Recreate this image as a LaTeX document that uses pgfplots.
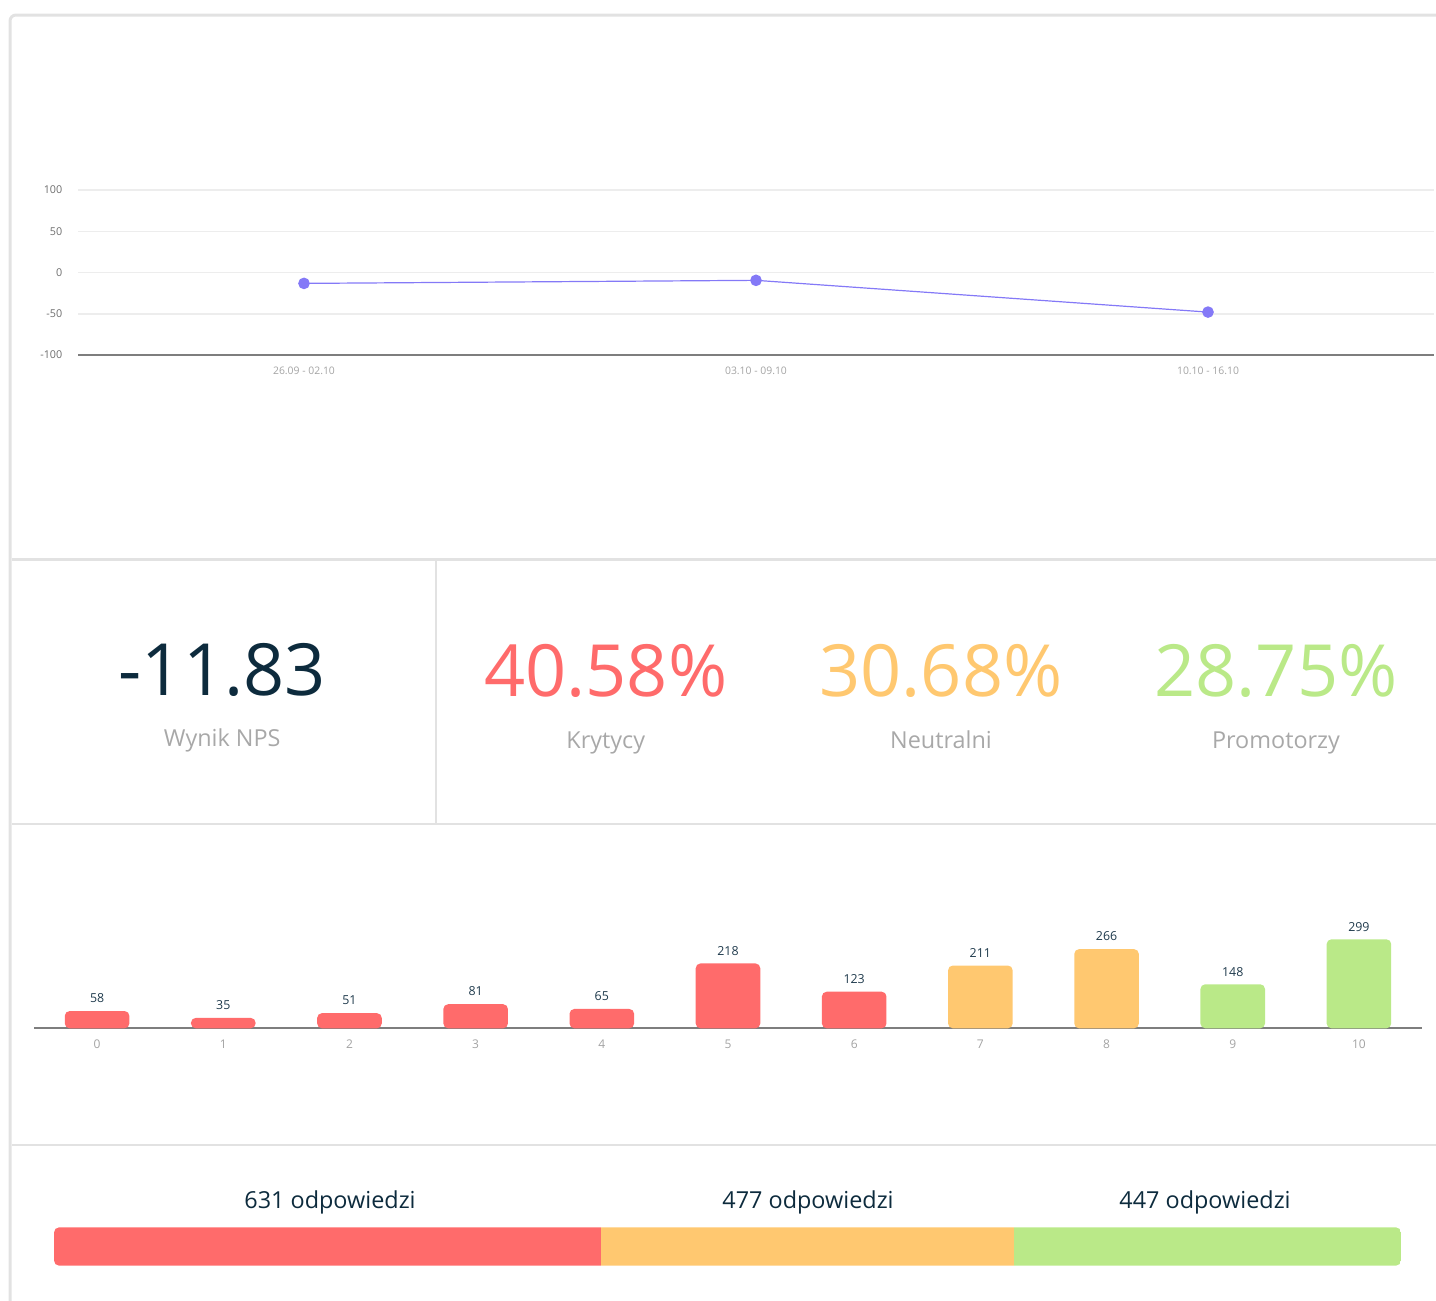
\documentclass[border=0pt]{standalone}
\usepackage{fontspec}
\setmainfont{Open Sans}
\usepackage{pgfplots}
\pgfplotsset{compat=1.18}
\definecolor{cred}{HTML}{FF6B6B}
\definecolor{corange}{HTML}{FFC870}
\definecolor{cgreen}{HTML}{BAE988}
\definecolor{navy}{HTML}{0D2B3D}
\definecolor{barlab}{HTML}{1F3A4C}
\definecolor{labelc}{HTML}{A8A8A8}
\definecolor{framec}{HTML}{E2E2E2}
\definecolor{gridc}{HTML}{EDEDED}
\definecolor{axisc}{HTML}{7E7E7E}
\definecolor{linec}{HTML}{8479F7}
\definecolor{ticky}{HTML}{6E6E6E}
\definecolor{tickx}{HTML}{A3A3A3}
\begin{document}
\begin{tikzpicture}
\useasboundingbox (0,0) rectangle (718pt,-650.5pt);
% card frame and separators
\draw[framec, line width=1.5pt, rounded corners=3pt] (730pt,-7.5pt) -- (5pt,-7.5pt) -- (5pt,-660pt);
\draw[framec, line width=1.5pt] (5.75pt,-279.5pt) -- (730pt,-279.5pt);
\draw[framec, line width=0.85pt] (5.75pt,-412pt) -- (730pt,-412pt);
\draw[framec, line width=0.9pt] (5.75pt,-572.5pt) -- (730pt,-572.5pt);
\draw[framec, line width=0.9pt] (217.8pt,-280.25pt) -- (217.8pt,-412pt);

% line chart
\begin{axis}[
  at={(39pt,-177.5pt)}, anchor=south west, scale only axis,
  width=678pt, height=82.5pt,
  xmin=-0.5, xmax=2.5, ymin=-100, ymax=100,
  axis lines*=left, axis line style={-},
  y axis line style={draw=none},
  x axis line style={draw=axisc, line width=1pt},
  major tick length=0pt,
  xtick={0,1,2}, xticklabels={26.09 - 02.10, 03.10 - 09.10, 10.10 - 16.10},
  ytick={-100,-50,0,50,100}, yticklabels={-100,-50,0,50,100},
  ymajorgrids, grid style={gridc, line width=0.75pt},
  xticklabel style={font=\fontsize{5.2}{6}\selectfont, text=tickx, anchor=north, inner sep=0pt, yshift=-5.85pt},
  yticklabel style={font=\fontsize{5.4}{6}\selectfont, text=ticky, anchor=east, inner sep=0pt, xshift=-7.65pt},
  clip=false,
]
\addplot[linec, line width=0.6pt, mark=*, mark size=2.6pt, mark options={solid, fill=linec, draw=linec}]
  coordinates {(0,-13.2) (1,-9.5) (2,-48.0)};
\end{axis}

% KPI texts
\node[anchor=base, text=navy, font=\fontsize{36}{40}\selectfont] at (111.1pt,-347.5pt) {-11.83};
\node[anchor=base, text=labelc, font=\fontsize{11.7}{14}\selectfont] at (111.1pt,-373.3pt) {Wynik NPS};
\node[anchor=base, text=cred, font=\fontsize{36}{40}\selectfont] at (302.9pt,-348pt) {40.58\%};
\node[anchor=base, text=labelc, font=\fontsize{11.7}{14}\selectfont] at (302.9pt,-374pt) {Krytycy};
\node[anchor=base, text=corange, font=\fontsize{36}{40}\selectfont] at (470.5pt,-348pt) {30.68\%};
\node[anchor=base, text=labelc, font=\fontsize{11.7}{14}\selectfont] at (470.5pt,-374pt) {Neutralni};
\node[anchor=base, text=cgreen, font=\fontsize{36}{40}\selectfont] at (638pt,-348pt) {28.75\%};
\node[anchor=base, text=labelc, font=\fontsize{11.7}{14}\selectfont] at (638pt,-374pt) {Promotorzy};

% score distribution
\begin{axis}[
  at={(17pt,-514.15pt)}, anchor=south west, scale only axis,
  width=694pt, height=74.4pt,
  xmin=-0.5, xmax=10.5, ymin=0, ymax=500,
  axis lines*=left, axis line style={-},
  y axis line style={draw=none},
  x axis line style={draw=axisc, line width=1pt},
  major tick length=0pt, ytick=\empty,
  xtick={0,1,2,3,4,5,6,7,8,9,10}, xticklabels={0,1,2,3,4,5,6,7,8,9,10},
  xticklabel style={font=\fontsize{6}{7}\selectfont, text=tickx, anchor=north, inner sep=0pt, yshift=-5.5pt},
  ybar, bar width=32.3pt, bar shift=0pt,
  nodes near coords,
  nodes near coords style={font=\fontsize{6.2}{7}\selectfont, text=barlab, inner sep=0pt, anchor=south, yshift=3.85pt},
  /pgf/number format/assume math mode=true,
  clip=false,
]
\addplot[fill=cred, draw=none, rounded corners=2.4pt]
  coordinates {(0,58) (1,35) (2,51) (3,81) (4,65) (5,218) (6,123)};
\addplot[fill=corange, draw=none, rounded corners=2.4pt]
  coordinates {(7,211) (8,266)};
\addplot[fill=cgreen, draw=none, rounded corners=2.4pt]
  coordinates {(9,148) (10,299)};
\end{axis}

% answers split
\node[anchor=base, text=navy, font=\fontsize{11.7}{14}\selectfont] at (165pt,-604.2pt) {631 odpowiedzi};
\node[anchor=base, text=navy, font=\fontsize{11.7}{14}\selectfont] at (404pt,-604.2pt) {477 odpowiedzi};
\node[anchor=base, text=navy, font=\fontsize{11.7}{14}\selectfont] at (602.5pt,-604.2pt) {447 odpowiedzi};
\begin{scope}
\clip[rounded corners=2.6pt] (27pt,-613.65pt) rectangle (700.5pt,-632.85pt);
\begin{axis}[
  at={(27pt,-623.25pt)}, anchor=west, scale only axis,
  width=673.5pt, height=19.2pt,
  xmin=0, xmax=1555, ymin=-0.5, ymax=0.5,
  hide axis, xbar stacked, bar width=19.2pt,
]
\addplot[fill=cred, draw=none] coordinates {(631,0)};
\addplot[fill=corange, draw=none] coordinates {(477,0)};
\addplot[fill=cgreen, draw=none] coordinates {(447,0)};
\end{axis}
\end{scope}
\end{tikzpicture}
\end{document}
